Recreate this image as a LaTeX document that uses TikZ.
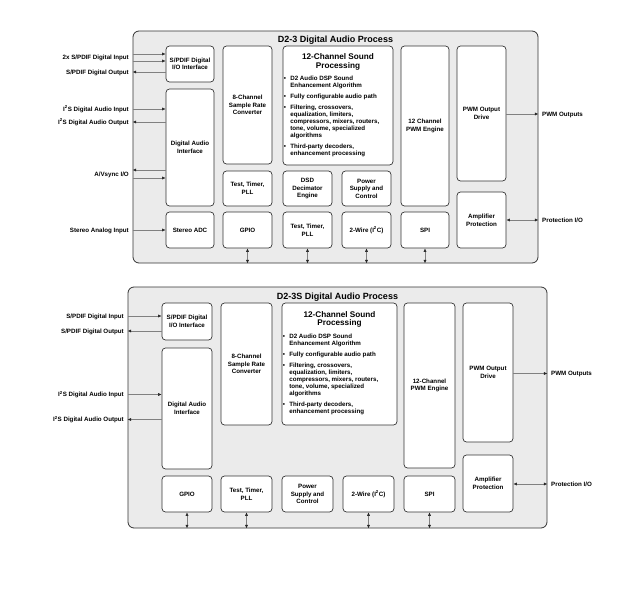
\documentclass[tikz,border=0pt]{standalone}
\usepackage{fontspec}
\setmainfont{Liberation Sans}
\usetikzlibrary{positioning,arrows.meta}

\newcommand{\bulletmark}{\makebox[6.5pt][l]{\textbullet}}
\newcommand{\bulletgap}{\hspace*{6.5pt}}

\begin{document}
\begin{tikzpicture}[
		x=1pt, y=-1pt,
		chipbox/.style={draw=black!80, line width=0.8pt, fill=black!8, rounded corners=6pt, inner sep=0pt},
		chiptitle/.style={font=\fontsize{9}{10}\selectfont\bfseries, inner sep=0pt, text height=6.45pt, text depth=0pt},
		blk/.style={draw=black!80, line width=0.7pt, fill=white, rounded corners=3.5pt, align=center, inner sep=1pt,
				font=\fontsize{6.2}{7.6}\selectfont\bfseries},
		proctitle/.style={font=\fontsize{8.2}{8.4}\selectfont\bfseries, align=center, inner sep=0pt},
		proclist/.style={font=\fontsize{6.2}{7.1}\selectfont\bfseries, align=left, inner sep=0pt},
		sigtext/.style={font=\fontsize{6.2}{7.2}\selectfont\bfseries, inner sep=0pt, text height=4.4pt, text depth=0pt},
		sig/.style={draw=black!50, line width=0.5pt},
		sigin/.style={sig, -{Latex[length=3.5pt,width=3pt,color=black!85]}},
		sigio/.style={sig, {Latex[length=3.5pt,width=3pt,color=black!85]}-{Latex[length=3.5pt,width=3pt,color=black!85]}}
	]
	\useasboundingbox (0,0) rectangle (640,605);

	% D2-3
	\node[chipbox, minimum width=405, minimum height=232] (chip) at (335.5,147) {};
	\node[chiptitle] (chipname) at (335.5,39) {D2-3 Digital Audio Process};

	\node[blk, minimum width=48, minimum height=36] (spdif) at (190,64) {S/PDIF Digital\\I/O Interface};
	\node[blk, minimum width=48, minimum height=117] (dai) at (190,147.5) {Digital Audio\\Interface};
	\node[blk, minimum width=48, minimum height=36] (adc) at (190,230) {Stereo ADC};
	\node[blk, minimum width=49, minimum height=118] (src) at (247.5,105) {8-Channel\\Sample Rate\\Converter};
	\node[blk, minimum width=49, minimum height=35] (ttp) at (247.5,188.5) {Test, Timer,\\PLL};
	\node[blk, minimum width=49, minimum height=36] (gpio) at (247.5,230) {GPIO};
	\node[blk, minimum width=110, minimum height=119] (proc) at (338,105.5) {};
	\node[blk, minimum width=49, minimum height=35] (dsd) at (307.5,188.5) {DSD\\Decimator\\Engine};
	\node[blk, minimum width=49, minimum height=36] (ttpb) at (307.5,230) {Test, Timer,\\PLL};
	\node[blk, minimum width=49, minimum height=35] (power) at (366.5,188.5) {Power\\Supply and\\Control};
	\node[blk, minimum width=49, minimum height=36] (twi) at (366.5,230) {2-Wire (I\textsuperscript{2}C)};
	\node[blk, minimum width=48, minimum height=160] (pwm) at (425,126) {12 Channel\\PWM Engine};
	\node[blk, minimum width=48, minimum height=36] (spi) at (425,230) {SPI};
	\node[blk, minimum width=49, minimum height=135] (drive) at (481.5,113.5) {PWM Output\\Drive};
	\node[blk, minimum width=49, minimum height=56] (amp) at (481.5,220) {Amplifier\\Protection};

	\node[proctitle, below=8pt of proc.north] (proctop) {12-Channel Sound\\Processing};
	\node[proclist, anchor=north west, xshift=1pt, yshift=-5.5pt] (procitems) at (proctop.south -| proc.west) {%
		\bulletmark D2 Audio DSP Sound\\
		\bulletgap Enhancement Algorithm\\[3.8pt]
		\bulletmark Fully configurable audio path\\[3.8pt]
		\bulletmark Filtering, crossovers,\\
		\bulletgap equalization, limiters,\\
		\bulletgap compressors, mixers, routers,\\
		\bulletgap tone, volume, specialized\\
		\bulletgap algorithms\\[3.8pt]
		\bulletmark Third-party decoders,\\
		\bulletgap enhancement processing};

	\node[sigtext, anchor=east] (spdifin) at (129,57.5) {2x S/PDIF Digital Input};
	\node[sigtext, anchor=east] (spdifout) at (129,72) {S/PDIF Digital Output};
	\node[sigtext, anchor=east] (i2sin) at (129,109) {I\textsuperscript{2}S Digital Audio Input};
	\node[sigtext, anchor=east] (i2sout) at (129,122) {I\textsuperscript{2}S Digital Audio Output};
	\node[sigtext, anchor=east] (avsync) at (129,174) {A/Vsync I/O};
	\node[sigtext, anchor=east] (analogin) at (129,230) {Stereo Analog Input};
	\node[sigtext, anchor=west] (pwmout) at (542,114) {PWM Outputs};
	\node[sigtext, anchor=west] (protio) at (542,220) {Protection I/O};

	\coordinate (spdifinA) at ([yshift=3.5pt]spdifin.east);
	\coordinate (spdifinB) at ([yshift=-3.5pt]spdifin.east);
	\coordinate (avsyncA) at ([yshift=4pt]avsync.east);
	\coordinate (avsyncB) at ([yshift=-4pt]avsync.east);

	\draw[sigin] (chip.west |- spdifinA) -- (spdif.west |- spdifinA);
	\draw[sigin] (chip.west |- spdifinB) -- (spdif.west |- spdifinB);
	\draw[sigin] (spdif.west |- spdifout) -- (chip.west |- spdifout);
	\draw[sigin] (chip.west |- i2sin) -- (dai.west |- i2sin);
	\draw[sigin] (dai.west |- i2sout) -- (chip.west |- i2sout);
	\draw[sigin] (dai.west |- avsyncA) -- (chip.west |- avsyncA);
	\draw[sigin] (chip.west |- avsyncB) -- (dai.west |- avsyncB);
	\draw[sigin] (chip.west |- analogin) -- (adc.west |- analogin);
	\draw[sigin] (drive.east |- pwmout) -- (chip.east |- pwmout);
	\draw[sigio] (amp.east |- protio) -- (chip.east |- protio);
	\foreach \b in {gpio,ttpb,twi,spi}
	\draw[sigio] (\b.south) -- (\b.south |- chip.south);

	% D2-3S
	\node[chipbox, minimum width=419, minimum height=241] (bchip) at (337.5,407.5) {};
	\node[chiptitle] (bchipname) at (337.5,296) {D2-3S Digital Audio Process};

	\node[blk, minimum width=50, minimum height=37] (bspdif) at (187,321.5) {S/PDIF Digital\\I/O Interface};
	\node[blk, minimum width=50, minimum height=121] (bdai) at (187,408.5) {Digital Audio\\Interface};
	\node[blk, minimum width=50, minimum height=36] (bgpio) at (187,494) {GPIO};
	\node[blk, minimum width=51, minimum height=122] (bsrc) at (246.5,364) {8-Channel\\Sample Rate\\Converter};
	\node[blk, minimum width=51, minimum height=36] (bttp) at (246.5,494) {Test, Timer,\\PLL};
	\node[blk, minimum width=115, minimum height=122] (bproc) at (339.5,364) {};
	\node[blk, minimum width=51, minimum height=36] (bpower) at (307.5,494) {Power\\Supply and\\Control};
	\node[blk, minimum width=51, minimum height=36] (btwi) at (368.5,494) {2-Wire (I\textsuperscript{2}C)};
	\node[blk, minimum width=51, minimum height=165] (bpwm) at (429.5,385.5) {12-Channel\\PWM Engine};
	\node[blk, minimum width=51, minimum height=36] (bspi) at (429.5,494) {SPI};
	\node[blk, minimum width=50, minimum height=139] (bdrive) at (488,372.5) {PWM Output\\Drive};
	\node[blk, minimum width=50, minimum height=57] (bamp) at (488,483.5) {Amplifier\\Protection};

	\node[proctitle, below=8.4pt of bproc.north] (bproctop) {12-Channel Sound\\Processing};
	\node[proclist, anchor=north west, xshift=1pt, yshift=-6pt] (bprocitems) at (bproctop.south -| bproc.west) {%
		\bulletmark D2 Audio DSP Sound\\
		\bulletgap Enhancement Algorithm\\[3.8pt]
		\bulletmark Fully configurable audio path\\[3.8pt]
		\bulletmark Filtering, crossovers,\\
		\bulletgap equalization, limiters,\\
		\bulletgap compressors, mixers, routers,\\
		\bulletgap tone, volume, specialized\\
		\bulletgap algorithms\\[3.8pt]
		\bulletmark Third-party decoders,\\
		\bulletgap enhancement processing};

	\node[sigtext, anchor=east] (bspdifin) at (124,316) {S/PDIF Digital Input};
	\node[sigtext, anchor=east] (bspdifout) at (124,331) {S/PDIF Digital Output};
	\node[sigtext, anchor=east] (bi2sin) at (124,394.5) {I\textsuperscript{2}S Digital Audio Input};
	\node[sigtext, anchor=east] (bi2sout) at (124,419.5) {I\textsuperscript{2}S Digital Audio Output};
	\node[sigtext, anchor=west] (bpwmout) at (551,373.5) {PWM Outputs};
	\node[sigtext, anchor=west] (bprotio) at (551,484) {Protection I/O};

	\draw[sigin] (bchip.west |- bspdifin) -- (bspdif.west |- bspdifin);
	\draw[sigin] (bspdif.west |- bspdifout) -- (bchip.west |- bspdifout);
	\draw[sigin] (bchip.west |- bi2sin) -- (bdai.west |- bi2sin);
	\draw[sigin] (bdai.west |- bi2sout) -- (bchip.west |- bi2sout);
	\draw[sigin] (bdrive.east |- bpwmout) -- (bchip.east |- bpwmout);
	\draw[sigio] (bamp.east |- bprotio) -- (bchip.east |- bprotio);
	\foreach \b in {bgpio,bttp,btwi,bspi}
	\draw[sigio] (\b.south) -- (\b.south |- bchip.south);
\end{tikzpicture}
\end{document}
